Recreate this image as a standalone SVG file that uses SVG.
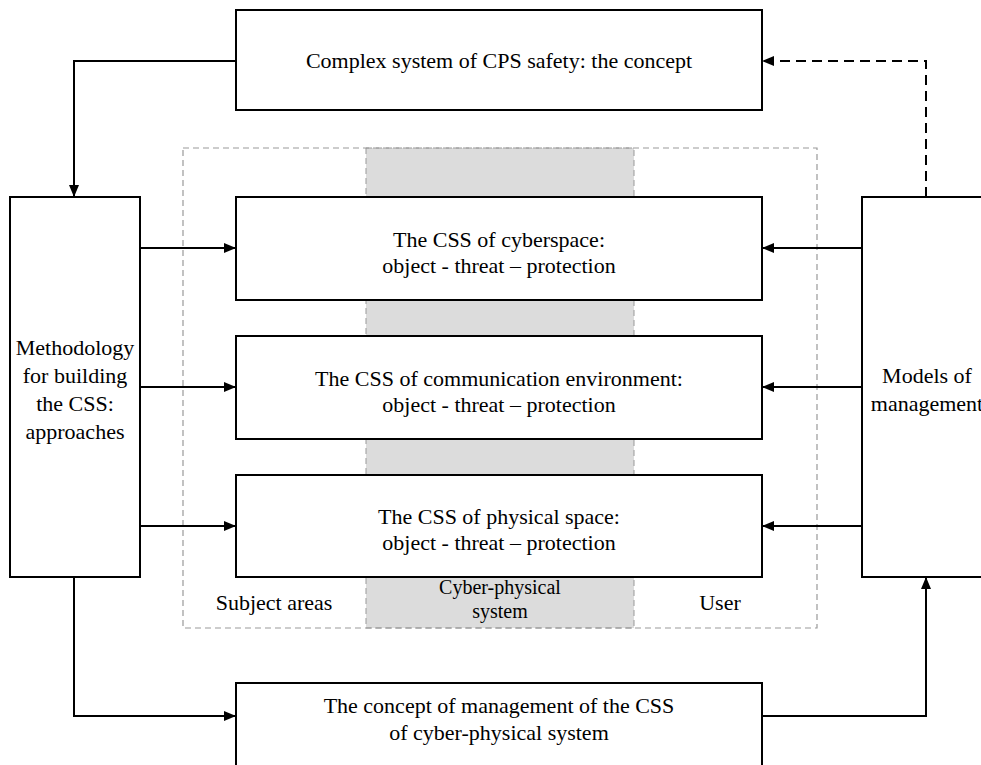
<svg xmlns="http://www.w3.org/2000/svg" width="981" height="765" viewBox="0 0 981 765">
<style>
.box{fill:#fff;stroke:#000;stroke-width:2}
text{font-family:"Liberation Serif",serif;font-size:22px;fill:#000;text-anchor:middle}
.sm{font-size:20px}
.c{fill:none;stroke:#000;stroke-width:2}
.d{fill:none;stroke:#000;stroke-width:2;stroke-dasharray:10,6}
</style>
<defs>
<marker id="ah" viewBox="0 0 12 10" refX="12" refY="5" markerWidth="12" markerHeight="10" markerUnits="userSpaceOnUse" orient="auto">
<path d="M0,0 L12,5 L0,10 Z" fill="#000"/>
</marker>
</defs>
<rect width="981" height="765" fill="#fff"/>
<g id="areas">
<rect x="366" y="148" width="268" height="480" fill="#dcdcdc" stroke="#999" stroke-width="1" stroke-dasharray="6,4"/>
<rect x="183" y="148" width="634" height="480" fill="none" stroke="#999" stroke-width="1.2" stroke-dasharray="6,4"/>
<text x="274" y="610">Subject areas</text>
<text class="sm" x="500" y="594">Cyber-physical</text>
<text class="sm" x="500" y="618">system</text>
<text x="720" y="610">User</text>
</g>
<g id="connectors">
<path class="c" d="M236,61 H74 V197" marker-end="url(#ah)"/>
<path class="c" d="M140,248 H236" marker-end="url(#ah)"/>
<path class="c" d="M140,387 H236" marker-end="url(#ah)"/>
<path class="c" d="M140,526 H236" marker-end="url(#ah)"/>
<path class="c" d="M862,248 H762" marker-end="url(#ah)"/>
<path class="c" d="M862,387 H762" marker-end="url(#ah)"/>
<path class="c" d="M862,526 H762" marker-end="url(#ah)"/>
<path class="d" d="M926,197 V61 H762" marker-end="url(#ah)"/>
<path class="c" d="M74,577 V716 H236" marker-end="url(#ah)"/>
<path class="c" d="M762,716 H926 V577" marker-end="url(#ah)"/>
</g>
<g id="top">
<rect class="box" x="236" y="10" width="526" height="100"/>
<text x="499" y="68">Complex system of CPS safety: the concept</text>
</g>
<g id="method">
<rect class="box" x="10" y="197" width="130" height="380"/>
<text x="75" y="355">Methodology</text>
<text x="75" y="383">for building</text>
<text x="75" y="411">the CSS:</text>
<text x="75" y="439">approaches</text>
</g>
<g id="cyber">
<rect class="box" x="236" y="197" width="526" height="103"/>
<text x="499" y="247">The CSS of cyberspace:</text>
<text x="499" y="273">object - threat – protection</text>
</g>
<g id="comm">
<rect class="box" x="236" y="336" width="526" height="103"/>
<text x="499" y="386">The CSS of communication environment:</text>
<text x="499" y="412">object - threat – protection</text>
</g>
<g id="phys">
<rect class="box" x="236" y="475" width="526" height="102"/>
<text x="499" y="524">The CSS of physical space:</text>
<text x="499" y="550">object - threat – protection</text>
</g>
<g id="models">
<rect class="box" x="862" y="197" width="140" height="380"/>
<text x="927" y="383">Models of</text>
<text x="927" y="411">management</text>
</g>
<g id="concept">
<rect class="box" x="236" y="683" width="526" height="100"/>
<text x="499" y="713">The concept of management of the CSS</text>
<text x="499" y="740">of cyber-physical system</text>
</g>
</svg>
